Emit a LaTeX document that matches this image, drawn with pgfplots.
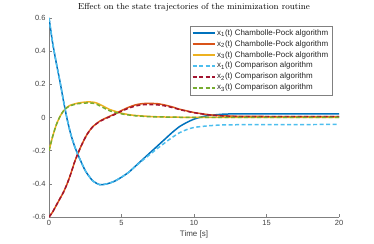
\documentclass[border=0pt]{standalone}
\usepackage{fontspec}
\setmainfont{Liberation Sans}
\newfontfamily\lmr{Latin Modern Roman}
\usepackage{pgfplots}
\pgfplotsset{compat=1.18}
\definecolor{mblue}{rgb}{0,0.447,0.741}
\definecolor{morange}{rgb}{0.85,0.325,0.098}
\definecolor{myellow}{rgb}{0.929,0.694,0.125}
\definecolor{mlblue}{rgb}{0.302,0.745,0.933}
\definecolor{mdred}{rgb}{0.635,0.078,0.184}
\definecolor{mgreen}{rgb}{0.466,0.674,0.188}
\definecolor{axgray}{rgb}{0.5,0.5,0.5}
\pgfplotsset{
  sol/.style={line width=1.5pt, smooth, tension=0.4},
  das/.style={line width=1.5pt, smooth, tension=0.4, dash pattern=on 4bp off 2.5bp},
}
\begin{document}
\begin{tikzpicture}
\begin{axis}[
  scale only axis, width=290bp, height=199bp,
  xmin=0, xmax=20, ymin=-0.6, ymax=0.6,
  xtick={0,5,10,15,20}, ytick={-0.6,-0.4,-0.2,0,0.2,0.4,0.6},
  axis x line*=bottom, axis y line*=left,
  axis line style={axgray, line width=0.4pt, -},
  tick style={axgray, line width=0.4pt},
  tick align=inside, major tick length=3bp,
  yticklabel style={/pgf/number format/fixed, /pgf/number format/precision=1},
  /pgf/number format/assume math mode=true,
  ticklabel style={font=\fontsize{7.5}{8}\selectfont, text=black!75},
  xlabel={Time [s]}, xlabel style={font=\fontsize{8}{9}\selectfont, text=black!75, yshift=2bp},
  title={\lmr Effect on the state trajectories of the minimization routine},
  title style={font=\fontsize{8.8}{9}\selectfont, yshift=-3bp},
  legend style={at={(0.976,0.962)}, anchor=north east, font=\fontsize{8}{8.5}\selectfont,
    draw=axgray, line width=0.4pt, row sep=-0.3pt, inner sep=1.6pt, text=black!85},
  legend cell align=left,
  legend image code/.code={\draw[mark repeat=2,mark phase=2] plot coordinates {(0bp,0bp)(11bp,0bp)(22bp,0bp)};},
]
\addplot[mblue, sol] coordinates {(0,0.6)(0.25,0.45)(0.5,0.33)(0.75,0.22)(1,0.1)(1.25,-0.01)(1.5,-0.1)(1.75,-0.17)(2,-0.225)(2.5,-0.32)(3,-0.38)(3.5,-0.405)(4,-0.40)(4.5,-0.385)(5,-0.36)(5.5,-0.33)(6,-0.29)(6.5,-0.25)(7,-0.21)(7.5,-0.17)(8,-0.13)(8.5,-0.09)(9,-0.055)(9.5,-0.03)(10,-0.01)(10.5,0.003)(11,0.012)(12,0.02)(13,0.022)(15,0.022)(20,0.022)};
\addlegendentry{x\textsubscript{1}(t) Chambolle-Pock algorithm}
\addplot[morange, sol] coordinates {(0,-0.6)(0.25,-0.57)(0.5,-0.53)(0.75,-0.49)(1,-0.45)(1.25,-0.40)(1.5,-0.34)(1.8,-0.26)(2.2,-0.175)(2.6,-0.105)(3,-0.057)(3.5,-0.022)(4,0.0)(4.5,0.02)(5,0.042)(5.5,0.062)(6,0.077)(6.5,0.084)(7,0.085)(7.5,0.083)(8,0.075)(8.5,0.064)(9,0.05)(9.5,0.04)(10,0.03)(11,0.017)(12,0.01)(13,0.007)(15,0.006)(20,0.006)};
\addlegendentry{x\textsubscript{2}(t) Chambolle-Pock algorithm}
\addplot[myellow, sol] coordinates {(0,-0.2)(0.25,-0.115)(0.5,-0.045)(0.75,0.005)(1,0.04)(1.25,0.062)(1.5,0.075)(2,0.087)(2.5,0.093)(2.8,0.094)(3.2,0.09)(3.6,0.075)(4.2,0.048)(5,0.026)(5.6,0.016)(6,0.012)(7,0.006)(8,0.003)(10,0.001)(20,0.001)};
\addlegendentry{x\textsubscript{3}(t) Chambolle-Pock algorithm}
\addplot[mlblue, das] coordinates {(0,0.6)(0.25,0.45)(0.5,0.33)(0.75,0.22)(1,0.1)(1.25,-0.01)(1.5,-0.1)(1.75,-0.17)(2,-0.225)(2.5,-0.32)(3,-0.38)(3.5,-0.405)(4,-0.40)(4.5,-0.385)(5,-0.36)(5.5,-0.33)(6,-0.292)(6.5,-0.255)(7,-0.22)(7.5,-0.185)(8,-0.152)(8.5,-0.12)(9,-0.092)(9.5,-0.073)(10,-0.06)(11,-0.05)(12,-0.045)(14,-0.043)(20,-0.042)};
\addlegendentry{x\textsubscript{1}(t) Comparison algorithm}
\addplot[mdred, das] coordinates {(0,-0.6)(0.25,-0.57)(0.5,-0.53)(0.75,-0.49)(1,-0.45)(1.25,-0.40)(1.5,-0.34)(1.8,-0.26)(2.2,-0.175)(2.6,-0.105)(3,-0.058)(3.5,-0.024)(4,-0.003)(4.5,0.017)(5,0.038)(5.5,0.056)(6,0.07)(6.5,0.077)(7,0.078)(7.5,0.076)(8,0.07)(8.5,0.06)(9,0.048)(9.5,0.038)(10,0.029)(11,0.016)(12,0.009)(13,0.006)(15,0.005)(20,0.005)};
\addlegendentry{x\textsubscript{2}(t) Comparison algorithm}
\addplot[mgreen, das] coordinates {(0,-0.2)(0.25,-0.115)(0.5,-0.045)(0.75,0.005)(1,0.04)(1.25,0.06)(1.5,0.072)(2,0.083)(2.5,0.087)(2.8,0.088)(3.2,0.083)(3.6,0.066)(4.2,0.04)(5,0.022)(5.6,0.014)(6,0.01)(7,0.005)(8,0.003)(10,0.001)(20,0.001)};
\addlegendentry{x\textsubscript{3}(t) Comparison algorithm}
\end{axis}
\pgfresetboundingbox
\path ([xshift=-49bp,yshift=-27bp]current axis.south west) rectangle ([xshift=35bp,yshift=18bp]current axis.north east);
\end{tikzpicture}
\end{document}
